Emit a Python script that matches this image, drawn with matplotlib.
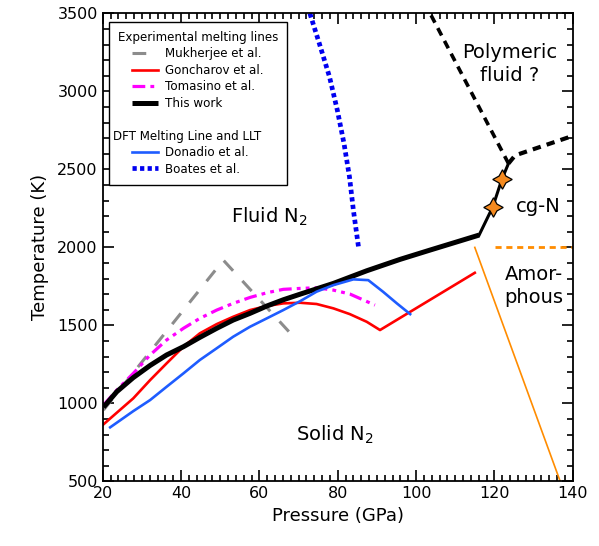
import matplotlib
matplotlib.use("Agg")
import matplotlib.pyplot as plt
from matplotlib.lines import Line2D
from matplotlib.ticker import MultipleLocator

# ---------------- data ----------------
mukherjee_p = [20.2, 50.8, 69.5]
mukherjee_t = [957, 1918, 1406]

goncharov_p = [20, 23.6, 27.8, 32.1, 36.3, 40.6, 44.8, 49.1, 53.3, 57.6, 61.9, 66.1,
               70.4, 74.6, 78.9, 83.1, 87.4, 90.8, 115.0]
goncharov_t = [861, 940, 1032, 1149, 1256, 1363, 1449, 1508, 1555, 1598, 1624, 1641,
               1645, 1637, 1609, 1572, 1523, 1470, 1837]

tomasino_p = [20.2, 23.6, 27.8, 32.1, 36.3, 40.6, 44.8, 49.1, 53.3, 57.6, 61.9, 66.1,
              70.4, 74.6, 78.9, 83.1, 89.5]
tomasino_t = [989, 1085, 1192, 1310, 1406, 1481, 1545, 1598, 1641, 1679, 1709, 1731,
              1737, 1741, 1726, 1701, 1630]

thiswork_p = [20.2, 23.6, 27.8, 32.1, 36.3, 40.6, 44.8, 49.1, 53.3, 57.6, 61.9, 66.1,
              70.4, 78.9, 87.4, 95.9, 103.6, 116.1]
thiswork_t = [975, 1075, 1165, 1243, 1310, 1363, 1423, 1481, 1534, 1577, 1624, 1664,
              1700, 1769, 1850, 1923, 1983, 2079]

cgn_line_p = [116.1, 119.6, 121.9, 123.6]
cgn_line_t = [2079, 2260, 2436, 2538]

stars_p = [119.6, 121.9]
stars_t = [2260, 2436]

donadio_p = [21.9, 27.8, 32.1, 36.3, 40.6, 44.8, 49.1, 53.3, 57.6, 61.9, 66.1, 70.4,
             74.6, 78.9, 84.0, 87.8, 91.6, 95.1, 98.5]
donadio_t = [846, 950, 1021, 1106, 1192, 1278, 1353, 1427, 1491, 1545, 1598, 1655,
             1716, 1758, 1795, 1790, 1715, 1641, 1572]

boates_p = [72.9, 75.3, 77.9, 79.9, 81.6, 83.0, 84.0, 85.3]
boates_t = [3500, 3308, 3094, 2880, 2667, 2453, 2239, 2004]

poly_left_p = [123.6, 103.6]
poly_left_t = [2538, 3500]
poly_right_p = [123.6, 125.3, 140]
poly_right_t = [2538, 2590, 2715]

amorph_line_p = [115.0, 136.8]
amorph_line_t = [2000, 500]
amorph_dash_p = [120.2, 140]
amorph_dash_t = [2000, 2000]

x_ticks = [20, 40, 60, 80, 100, 120, 140]
y_ticks = [500, 1000, 1500, 2000, 2500, 3000, 3500]

# ---------------- figure ----------------
plt.rcParams['font.family'] = ['DejaVu Sans']
fig = plt.figure(figsize=(5.99, 5.46), dpi=100)
ax = fig.add_axes([0.1715, 0.1185, 0.7846, 0.8568])

orange = '#ff8c00'
ax.plot(mukherjee_p, mukherjee_t, color='#8c8c8c', lw=2.2, ls=(0, (4.5, 4.5)),
        label='Mukherjee et al.')
ax.plot(goncharov_p, goncharov_t, color='#ff0000', lw=1.9, label='Goncharov et al.')
ax.plot(tomasino_p, tomasino_t, color='#ff00ff', lw=2.3,
        ls=(0, (4, 1.6, 1.2, 1.6, 1.2, 1.6)), label='Tomasino et al.')
ax.plot(thiswork_p, thiswork_t, color='black', lw=3.6, label='This work',
        solid_capstyle='butt', solid_joinstyle='round')
ax.plot(donadio_p, donadio_t, color='#1e5cff', lw=1.9, label='Donadio et al.')
ax.plot(boates_p, boates_t, color='#0000f0', lw=3.4, ls=(0, (0.9, 0.7)),
        label='Boates et al.')

ax.plot(cgn_line_p, cgn_line_t, color='black', lw=2.2)
ax.plot(poly_left_p, poly_left_t, color='black', lw=2.6, ls=(0, (2.3, 1.7)))
ax.plot(poly_right_p, poly_right_t, color='black', lw=3.0, ls=(0, (2.0, 1.5)))
ax.plot(amorph_line_p, amorph_line_t, color=orange, lw=1.2)
ax.plot(amorph_dash_p, amorph_dash_t, color=orange, lw=2.0, ls=(0, (2.2, 1.7)))
ax.plot(stars_p, stars_t, ls='none', marker=(4, 1, 0), markersize=14,
        markerfacecolor='#f58a1f', markeredgecolor='black', markeredgewidth=0.9,
        zorder=5)

ax.set_xlim(20, 140)
ax.set_ylim(500, 3500)
ax.set_xticks(x_ticks)
ax.set_yticks(y_ticks)
ax.xaxis.set_minor_locator(MultipleLocator(2))
ax.yaxis.set_minor_locator(MultipleLocator(100))
ax.tick_params(which='both', direction='in', top=True, right=True, labelsize=11.5,
               width=1.2)
ax.tick_params(which='major', length=8)
ax.tick_params(which='minor', length=4)
for s in ax.spines.values():
    s.set_linewidth(1.3)
ax.set_xlabel('Pressure (GPa)', fontsize=13, labelpad=4)
ax.set_ylabel('Temperature (K)', fontsize=13, labelpad=6)

# region labels
ax.text(62.7, 2196, 'Fluid N$_2$', fontsize=14, ha='center', va='center')
ax.text(79.3, 797, 'Solid N$_2$', fontsize=14, ha='center', va='center')
ax.text(124.0, 3175, 'Polymeric\nfluid ?', fontsize=14, ha='center', va='center',
        multialignment='center', linespacing=1.3)
ax.text(131.2, 2265, 'cg-N', fontsize=14, ha='center', va='center')
ax.text(122.6, 1752, 'Amor-\nphous', fontsize=14, ha='left', va='center',
        multialignment='left', linespacing=1.3)

# legend
h = {l.get_label(): l for l in ax.get_lines()}
blank = Line2D([], [], color='none')
handles = [h['Mukherjee et al.'], h['Goncharov et al.'], h['Tomasino et al.'],
           h['This work'], blank, blank, h['Donadio et al.'], h['Boates et al.']]
labels = ['Mukherjee et al.', 'Goncharov et al.', 'Tomasino et al.', 'This work',
          ' ', ' ', 'Donadio et al.', 'Boates et al.']
leg = ax.legend(handles, labels, title='Experimental melting lines',
                title_fontsize=8.6, fontsize=8.6, loc='upper left',
                bbox_to_anchor=(0.013, 0.982), borderaxespad=0, fancybox=False,
                framealpha=1, edgecolor='black', handlelength=2.2,
                handletextpad=0.6, labelspacing=0.29, borderpad=0.75)
leg.get_frame().set_linewidth(1.0)

fig.canvas.draw()
tb = leg.get_texts()[5].get_window_extent()
lb = leg.get_window_extent()
W, H = fig.get_size_inches() * fig.dpi
fig.text((lb.x0 + 4) / W, (tb.y0 + tb.y1) / 2 / H, 'DFT Melting Line and LLT',
         fontsize=8.6, ha='left', va='center')

fig.savefig('out.png', dpi=100)
